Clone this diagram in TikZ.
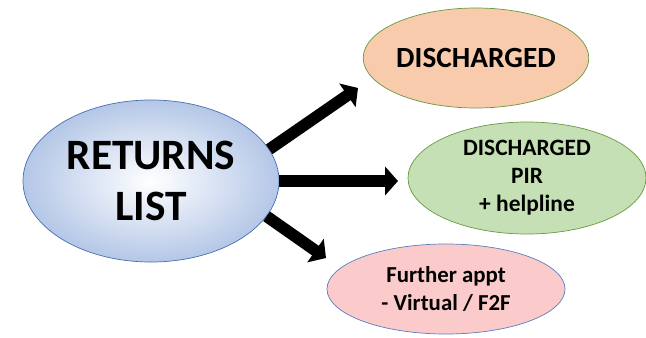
\documentclass[tikz,border=0pt]{standalone}
\usepackage{fontspec}
\setmainfont{Carlito}
\usetikzlibrary{shapes.geometric,arrows.meta}
\definecolor{bluefill}{HTML}{B4C7E7}
\definecolor{blueline}{HTML}{4A6FAE}
\definecolor{salmonfill}{HTML}{F8CBAD}
\definecolor{greenfill}{HTML}{C5E0B4}
\definecolor{greenline}{HTML}{6A9A40}
\definecolor{pinkfill}{HTML}{FBCBCB}
\definecolor{pinkline}{HTML}{5B7FC0}
\tikzset{
  oval/.style={ellipse, inner sep=0pt, align=center, font=\bfseries, line width=0.6pt},
  bigarrow/.style={line width=10pt, -{Triangle[length=11pt,width=24pt]}}
}
\begin{document}
\begin{tikzpicture}[x=0.03cm, y=-0.03cm]
  \useasboundingbox (0,0) rectangle (646,337);
  % central list node
  \node[oval, draw=blueline, inner color=white, outer color=bluefill,
        minimum width=7.68cm, minimum height=4.86cm,
        font=\bfseries\fontsize{37}{44}\selectfont] (ret) at (151,181) {RETURNS\\LIST};
  % outcomes
  \node[oval, draw=greenline, fill=salmonfill,
        minimum width=6.62cm, minimum height=3.0cm,
        font=\bfseries\fontsize{25}{30}\selectfont] (dis) at (476,58) {DISCHARGED};
  \node[oval, draw=greenline, fill=greenfill,
        minimum width=7.14cm, minimum height=3.36cm,
        font=\bfseries\fontsize{20}{24}\selectfont] (pir) at (527,178) {DISCHARGED\\PIR\\+ helpline};
  \node[oval, draw=pinkline, fill=pinkfill,
        minimum width=7.14cm, minimum height=2.7cm,
        font=\bfseries\fontsize{19.5}{24}\selectfont] (fur) at (446,289) {Further appt\\- Virtual / F2F};
  % arrow tips
  \coordinate (t1) at (358,88);
  \coordinate (t2) at (398,181);
  \coordinate (t3) at (326,258);
  \draw[bigarrow] (ret.15) -- (t1);
  \draw[bigarrow] (ret.east) -- (t2);
  \draw[bigarrow] (ret.-17) -- (t3);
\end{tikzpicture}
\end{document}
